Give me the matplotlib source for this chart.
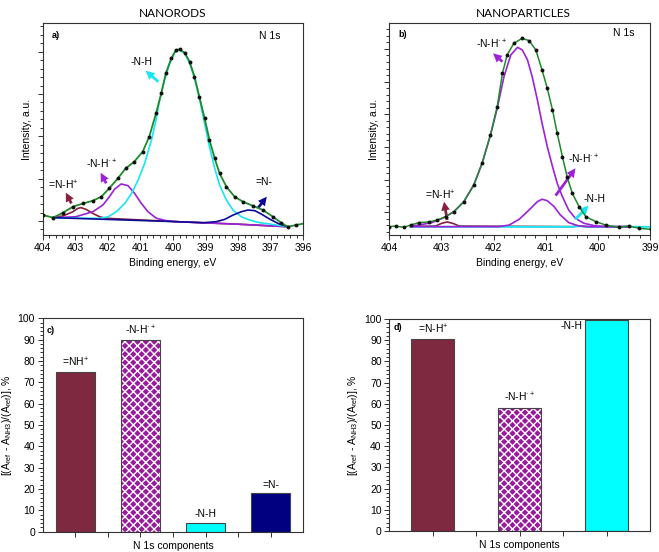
import matplotlib
matplotlib.use("Agg")
import matplotlib.pyplot as plt
from matplotlib.ticker import MultipleLocator, NullFormatter

plt.rcParams['font.family'] = ['Liberation Sans', 'DejaVu Sans']
plt.rcParams['mathtext.fontset'] = 'custom'
plt.rcParams['mathtext.rm'] = 'Liberation Sans'
plt.rcParams['mathtext.it'] = 'Liberation Sans'
plt.rcParams['mathtext.bf'] = 'Liberation Sans:bold'
plt.rcParams['hatch.linewidth'] = 1.0

# ---------------- Panel a (NANORODS) -----------------
a_env_x = [403.99, 403.68, 403.38, 403.07, 402.76, 402.46, 402.2, 401.96, 401.69, 401.45,
           401.19, 400.93, 400.73, 400.52, 400.36, 400.22, 400.05, 399.91, 399.80, 399.64,
           399.49, 399.34, 399.19, 399.03, 398.88, 398.72, 398.57, 398.36, 398.11, 397.85,
           397.55, 397.24, 396.93, 396.68, 396.48, 396.22, 395.96]
a_env_y = [2.8, 1.6, 3.9, 6.8, 8.3, 9.6, 11.5, 15.4, 20.2, 24.9,
           28.0, 32.8, 39.8, 50.9, 60.3, 69.8, 76.9, 80.8, 81.1, 79.5,
           75.3, 68.2, 58.7, 48.5, 38.3, 29.6, 22.5, 16.2, 11.5, 9.1,
           7.2, 5.2, 2.0, -0.8, -2.7, -1.9, -1.1]

a_nh2_x = [403.68, 403.38, 403.07, 402.92, 402.82, 402.67, 402.46, 402.25, 402.06, 399.9,
           398.0, 396.48]
a_nh2_y = [1.6, 2.4, 4.4, 6.0, 6.3, 5.5, 3.6, 2.0, 1.3, -0.3,
           -1.5, -2.7]

a_nhp_x = [403.68, 402.99, 402.46, 402.15, 401.95, 401.79, 401.59, 401.38, 401.18, 400.97,
           400.77, 400.51, 400.22, 399.9, 398.0, 396.48]
a_nhp_y = [1.6, 2.0, 4.4, 7.6, 11.5, 15.1, 17.5, 16.7, 13.1, 8.3,
           4.4, 1.3, 0.2, -0.3, -1.5, -2.7]

a_nh_x = [403.68, 402.76, 402.25, 401.99, 401.74, 401.48, 401.27, 401.07, 400.87, 400.66,
          400.51, 400.41, 400.26, 400.10, 399.95, 399.80, 399.64, 399.49, 399.34, 399.18,
          399.03, 398.88, 398.72, 398.57, 398.36, 398.16, 397.90, 397.65, 397.34, 397.03,
          396.48]
a_nh_y = [1.6, 1.3, 1.3, 2.0, 4.4, 8.3, 13.1, 19.4, 27.2, 38.3,
          48.5, 57.2, 66.6, 74.5, 79.5, 80.8, 79.2, 74.5, 67.4, 57.2,
          46.1, 35.1, 24.9, 17.0, 9.9, 5.2, 2.0, 0.5, -0.8, -1.4,
          -2.7]

a_n_x = [403.68, 399.9, 399.08, 398.67, 398.41, 398.16, 397.90, 397.70, 397.49, 397.29,
         397.03, 396.78, 396.48]
a_n_y = [1.6, -0.3, -0.8, -0.3, 0.8, 2.8, 4.4, 5.2, 4.9, 3.3,
         0.9, -1.1, -2.7]

# ---------------- Panel b (NANOPARTICLES) -----------------
b_env_x = [404.0, 403.88, 403.72, 403.59, 403.43, 403.24, 403.08, 402.92, 402.76, 402.57,
           402.38, 402.22, 402.06, 401.93, 401.83, 401.74, 401.61, 401.45, 401.32, 401.19,
           401.07, 400.97, 400.87, 400.78, 400.68, 400.59, 400.49, 400.36, 400.23, 400.04,
           399.85, 399.6, 399.40, 399.21, 398.99]
b_env_y = [11.2, 11.6, 10.8, 12.2, 13.7, 14.1, 15.3, 17.3, 20.4, 26.5,
           36.7, 50.0, 67.3, 84.7, 105.1, 116.3, 123.5, 126.5, 125.1, 119.4,
           107.1, 95.9, 82.7, 68.4, 54.1, 41.8, 31.6, 23.5, 17.3, 14.3,
           12.2, 10.8, 11.6, 10.2, 9.6]

b_nhp_x = [403.59, 403.43, 403.18, 402.98, 402.76, 402.57, 402.38, 402.22, 402.06, 401.93,
           401.80, 401.67, 401.54, 401.45, 401.35, 401.26, 401.16, 401.07, 400.97, 400.87,
           400.78, 400.68, 400.56, 400.43, 400.27, 400.04, 399.79, 399.4]
b_nhp_y = [11.5, 12.2, 13.7, 16.3, 20.4, 26.5, 36.7, 50.0, 67.3, 83.7,
           103.1, 116.3, 121.0, 119.4, 113.3, 103.1, 88.8, 74.5, 60.2, 48.0,
           37.8, 29.6, 21.4, 16.3, 13.3, 11.6, 11.2, 11.2]

b_nhp2_x = [403.59, 401.90, 401.70, 401.51, 401.32, 401.16, 401.07, 400.97, 400.84, 400.72,
            400.56, 400.36, 400.17, 399.4]
b_nhp2_y = [11.2, 11.2, 12.2, 15.7, 21.4, 26.5, 28.0, 27.1, 23.5, 18.4,
            13.7, 11.6, 11.2, 11.2]

b_nh2_x = [403.59, 403.11, 403.0, 402.89, 402.78, 402.66, 400.5, 400.35, 400.2, 399.4]
b_nh2_y = [11.3, 11.6, 13.2, 14.1, 13.2, 11.6, 11.2, 11.7, 11.2, 11.2]

b_nh_x = [403.59, 400.5, 400.35, 400.2, 399.0]
b_nh_y = [11.1, 11.1, 11.5, 11.1, 11.1]

# ---------------- Bars -----------------
c_labels = ['=NH$^{+}$', '-N-H$^{\u00b7+}$', '-N-H', '=N-']
c_values = [74.7, 89.6, 4.2, 18.1]
d_labels = ['=N-H$^{+}$', '-N-H$^{\u00b7+}$', '-N-H']
d_values = [90.6, 58.2, 99.7]

# colours
MAROON = '#8A1F3F'
PURPLE = '#9B22D8'
CYAN = '#19E6F0'
NAVY = '#0A0A96'
GREEN = '#1F8A2A'
BAR_MAROON = '#7F2940'
BAR_PURPLE = '#9A1A9E'
BAR_CYAN = '#00FFFF'
BAR_NAVY = '#000080'

NHP = '-N-H$^{\u00b7+}$'

W, H = 659, 552
fig = plt.figure(figsize=(W / 100, H / 100), dpi=100)


def px_axes(l, t, r, b):
    return fig.add_axes([l / W, 1 - b / H, (r - l) / W, (b - t) / H])


FS = 7.5


def style_axes(ax):
    for s in ax.spines.values():
        s.set_linewidth(0.8)
        s.set_color('#333333')
    ax.tick_params(which='both', direction='out', top=False, right=False,
                   labelsize=FS, width=0.7, color='#333333', pad=2)
    ax.tick_params(which='major', length=3.5)
    ax.tick_params(which='minor', length=2)


def arrow(ax, text, xy_text, tail, head, color, ha='center'):
    ax.text(xy_text[0], xy_text[1], text, fontsize=FS, ha=ha, va='center')
    ax.annotate('', xy=head, xytext=tail,
                arrowprops=dict(arrowstyle='simple,head_width=0.7,head_length=0.7,tail_width=0.22',
                                color=color, lw=0, shrinkA=0, shrinkB=0,
                                mutation_scale=9))


# ---- panel a
ax = px_axes(42.7, 23.3, 303.3, 235)
style_axes(ax)
ax.plot(a_nh2_x, a_nh2_y, color=MAROON, lw=1.2, zorder=2)
ax.plot(a_nhp_x, a_nhp_y, color=PURPLE, lw=1.2, zorder=3)
ax.plot(a_nh_x, a_nh_y, color=CYAN, lw=1.2, zorder=3)
ax.plot(a_n_x, a_n_y, color=NAVY, lw=1.2, zorder=3)
ax.plot(a_env_x, a_env_y, color=GREEN, lw=1.3, zorder=4)
ax.plot(a_env_x, a_env_y, ls='none', marker='o', ms=1.8, color='#111111', zorder=5)
ax.set_xlim(404, 396)
ax.set_ylim(-6.6, 93.4)
ax.xaxis.set_major_locator(MultipleLocator(1))
ax.xaxis.set_minor_locator(MultipleLocator(0.2))
ax.yaxis.set_major_locator(MultipleLocator(20))
ax.yaxis.set_minor_locator(MultipleLocator(4))
ax.yaxis.set_major_formatter(NullFormatter())
ax.set_xlabel('Binding energy, eV', fontsize=FS, labelpad=4)
ax.set_ylabel('Intensity, a.u.', fontsize=FS, labelpad=2)
ax.text(403.72, 87.6, 'a)', fontsize=6.5, fontweight='bold', ha='left', va='center')
ax.text(396.7, 87.4, 'N 1s', fontsize=FS, ha='right', va='center')
arrow(ax, '=N-H$^{+}$', (403.36, 16.9), (403.12, 8.3), (403.29, 13.4), MAROON)
arrow(ax, NHP, (402.2, 26.9), (402.05, 17.8), (402.22, 22.8), PURPLE)
arrow(ax, '-N-H', (400.97, 75.3), (400.45, 65.8), (400.84, 71.0), CYAN)
arrow(ax, '=N-', (397.2, 18.2), (397.40, 6.0), (397.12, 11.5), NAVY)

# ---- panel b
ax = px_axes(389.3, 23.3, 650, 235)
style_axes(ax)
ax.plot(b_nh2_x, b_nh2_y, color=MAROON, lw=1.2, zorder=2)
ax.plot(b_nh_x, b_nh_y, color=CYAN, lw=1.4, zorder=3)
ax.plot(b_nhp2_x, b_nhp2_y, color=PURPLE, lw=1.2, zorder=3)
ax.plot(b_nhp_x, b_nhp_y, color=PURPLE, lw=1.2, zorder=3)
ax.plot(b_env_x, b_env_y, color=GREEN, lw=1.1, zorder=4)
ax.plot(b_env_x, b_env_y, ls='none', marker='o', ms=1.8, color='#111111', zorder=5)
ax.set_xlim(404, 399)
ax.set_ylim(6.1, 135.7)
ax.xaxis.set_major_locator(MultipleLocator(1))
ax.xaxis.set_minor_locator(MultipleLocator(0.2))
ax.yaxis.set_major_locator(MultipleLocator(20))
ax.yaxis.set_minor_locator(MultipleLocator(4))
ax.yaxis.set_major_formatter(NullFormatter())
ax.set_xlabel('Binding energy, eV', fontsize=FS, labelpad=4)
ax.set_ylabel('Intensity, a.u.', fontsize=FS, labelpad=2)
ax.text(403.82, 129.0, 'b)', fontsize=6.5, fontweight='bold', ha='left', va='center')
ax.text(399.3, 129.6, 'N 1s', fontsize=FS, ha='right', va='center')
arrow(ax, NHP, (402.03, 122.6), (401.83, 112.2), (402.01, 117.3), PURPLE)
arrow(ax, '=N-H$^{+}$', (403.02, 30.4), (402.89, 15.3), (402.95, 26.5), MAROON)
arrow(ax, NHP, (400.27, 52.2), (400.81, 30.2), (400.43, 46.9), PURPLE)
arrow(ax, '-N-H', (400.06, 28.4), (400.43, 15.7), (400.18, 24.1), CYAN)

# ---- panel c
ax = px_axes(42.7, 318.3, 303.3, 531.7)
style_axes(ax)
cx = [1, 2, 3, 4]
fills = [BAR_MAROON, BAR_PURPLE, BAR_CYAN, BAR_NAVY]
for i, (x, v) in enumerate(zip(cx, c_values)):
    if i == 1:
        ax.bar(x, v, width=0.6, color=fills[i], edgecolor='white', hatch='xxxx', lw=0, zorder=2)
        ax.bar(x, v, width=0.6, fill=False, edgecolor='#444444', lw=0.8, zorder=3)
    else:
        ax.bar(x, v, width=0.6, color=fills[i], edgecolor='#444444', lw=0.8, zorder=2)
    ax.text(x, v + 1.6, c_labels[i], fontsize=FS, ha='center', va='bottom')
ax.set_xlim(0.5, 4.5)
ax.set_ylim(0, 100)
ax.set_xticks([1, 1.5, 2, 2.5, 3, 3.5, 4])
ax.xaxis.set_major_formatter(NullFormatter())
ax.yaxis.set_major_locator(MultipleLocator(10))
ax.yaxis.set_minor_locator(MultipleLocator(2))
ax.set_xlabel('N 1s components', fontsize=FS, labelpad=1)
ax.set_ylabel('[(A$_{\\mathrm{ref}}$ - A$_{\\mathrm{NH3}}$)/(A$_{\\mathrm{ref}}$)], %', fontsize=FS, labelpad=3)
ax.text(0.56, 94.2, 'c)', fontsize=6.5, fontweight='bold', ha='left', va='center')

# ---- panel d
ax = px_axes(389.3, 319, 650, 531)
style_axes(ax)
dx = [1, 2, 3]
fills = [BAR_MAROON, BAR_PURPLE, BAR_CYAN]
for i, (x, v) in enumerate(zip(dx, d_values)):
    if i == 1:
        ax.bar(x, v, width=0.5, color=fills[i], edgecolor='white', hatch='xxxx', lw=0, zorder=2)
        ax.bar(x, v, width=0.5, fill=False, edgecolor='#444444', lw=0.8, zorder=3)
    else:
        ax.bar(x, v, width=0.5, color=fills[i], edgecolor='#444444', lw=0.8, zorder=2)
    if i == 2:
        ax.text(x - 0.28, 96.5, d_labels[i], fontsize=FS, ha='right', va='center')
    else:
        ax.text(x, v + 1.6, d_labels[i], fontsize=FS, ha='center', va='bottom')
ax.set_xlim(0.5, 3.5)
ax.set_ylim(0, 100)
ax.set_xticks([1, 1.5, 2, 2.5, 3])
ax.xaxis.set_major_formatter(NullFormatter())
ax.yaxis.set_major_locator(MultipleLocator(10))
ax.yaxis.set_minor_locator(MultipleLocator(2))
ax.set_xlabel('N 1s components', fontsize=FS, labelpad=1)
ax.set_ylabel('[(A$_{\\mathrm{ref}}$ - A$_{\\mathrm{NH3}}$)/(A$_{\\mathrm{ref}}$)], %', fontsize=FS, labelpad=3)
ax.text(0.55, 96, 'd)', fontsize=6.5, fontweight='bold', ha='left', va='center')

# titles
fig.text(173 / W, 1 - 13.5 / H, 'NANORODS', fontsize=8.5, family=['Lato', 'DejaVu Sans'],
         ha='center', va='center')
fig.text(523 / W, 1 - 13.5 / H, 'NANOPARTICLES', fontsize=8.5, family=['Lato', 'DejaVu Sans'],
         ha='center', va='center')

fig.savefig('out.png', dpi=100)
